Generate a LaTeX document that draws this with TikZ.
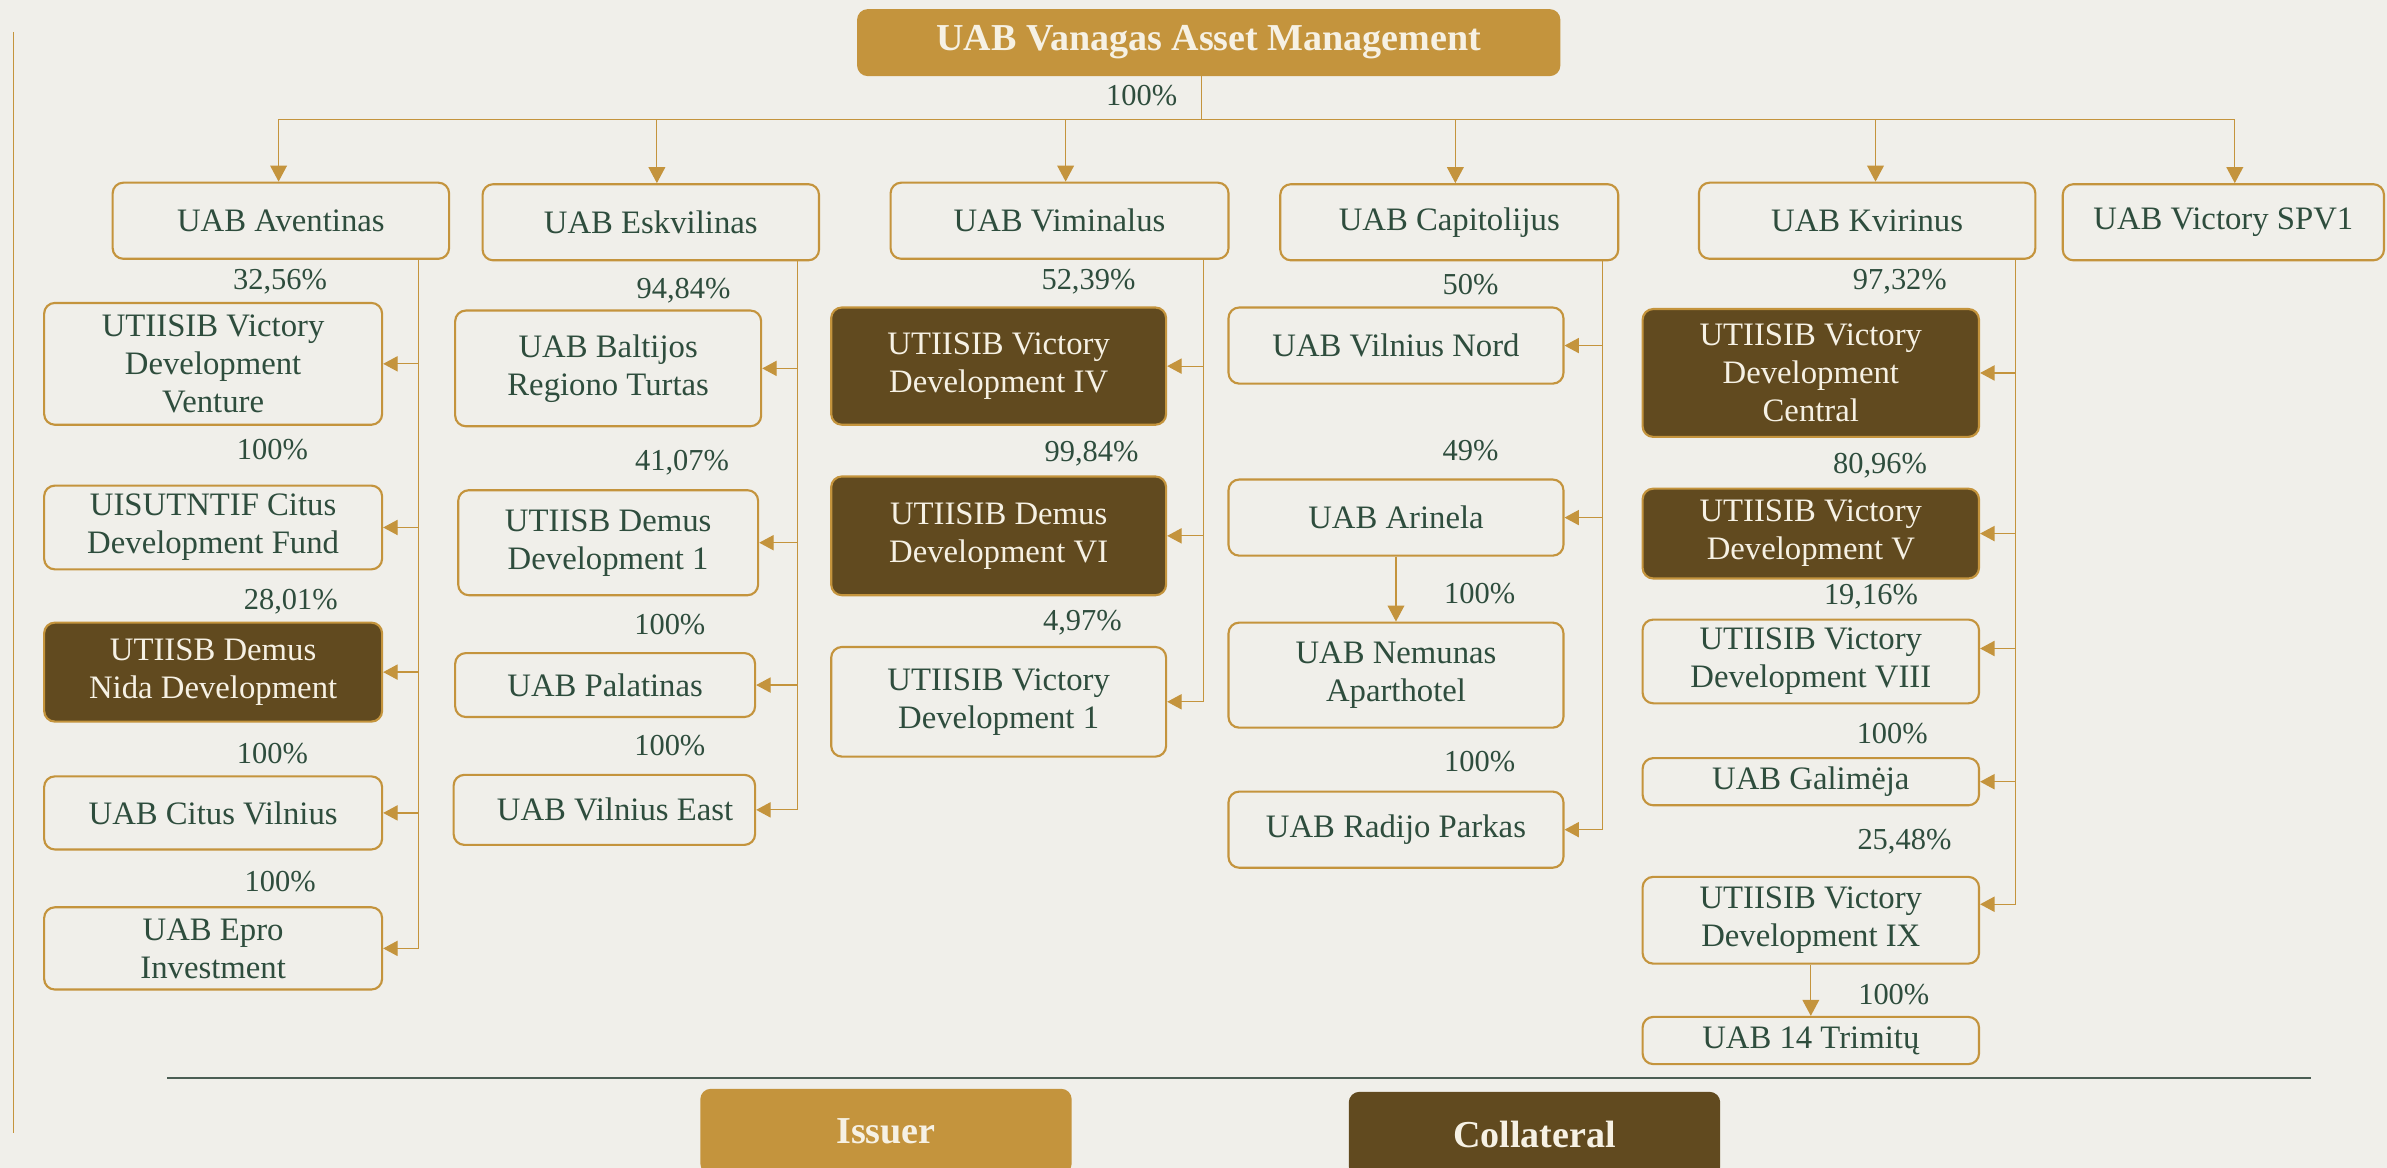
\documentclass[tikz,border=0pt]{standalone}
\usepackage{fontspec}
\setmainfont{Liberation Serif}
\usetikzlibrary{arrows.meta,positioning}

\definecolor{pagebg}{HTML}{F0EFEA}
\definecolor{gold}{HTML}{C4943D}
\definecolor{umber}{HTML}{614A1F}
\definecolor{ink}{HTML}{2E4D3D}
\definecolor{cream}{HTML}{F6F1E4}
\definecolor{rulegreen}{HTML}{4B5E54}

\begin{document}
\begin{tikzpicture}[
  x=1pt, y=-1pt,
  block/.style={
    draw=gold,
    line width=1.4pt,
    rounded corners=7pt,
    fill=pagebg,
    text=ink,
    align=center,
    inner sep=0pt,
    minimum width=221pt,
    minimum height=50pt,
    font=\fontsize{21.5}{25}\selectfont
  },
  darkblock/.style={block, fill=umber, text=cream},
  headblock/.style={
    fill=gold,
    rounded corners=7pt,
    text=cream,
    inner sep=0pt,
    font=\fontsize{25}{28}\selectfont\bfseries
  },
  pct/.style={text=ink, inner sep=0pt, font=\fontsize{20}{22}\selectfont},
  line/.style={draw=gold, line width=0.8pt},
  link/.style={line, -{Triangle[length=9.5pt,width=10pt]}},
  drop/.style={line, -{Triangle[length=10.5pt,width=11pt]}}
]

\path[use as bounding box, fill=pagebg] (0,0) rectangle (1568,767);
\clip (0,0) rectangle (1568,767);

% --- Parent ---
\node[headblock, minimum width=462pt, minimum height=44pt] (vanagas) at (794,28)
{UAB Vanagas Asset Management};

% --- First level ---
\node[block] (aventinas) at (184.5,145) {UAB Aventinas};
\node[block] (eskvilinas) at (427.5,146) {UAB Eskvilinas};
\node[block, minimum width=222pt] (viminalus) at (696,145) {UAB Viminalus};
\node[block, minimum width=222pt] (capitolijus) at (952,146) {UAB Capitolijus};
\node[block] (kvirinus) at (1226.5,145) {UAB Kvirinus};
\node[block, minimum width=211pt] (spv) at (1460.5,146) {UAB Victory SPV1};

% --- Aventinas column ---
\node[block, minimum width=222pt, minimum height=80pt] (venture) at (140,239)
{UTIISIB Victory\\Development\\Venture};
\node[block, minimum width=222pt, minimum height=55pt] (citusfund) at (140,346.5)
{UISUTNTIF Citus\\Development Fund};
\node[darkblock, minimum width=222pt, minimum height=65pt] (nida) at (140,441.5)
{UTIISB Demus\\Nida Development};
\node[block, minimum width=222pt, minimum height=48pt] (citusvilnius) at (140,534)
{UAB Citus Vilnius};
\node[block, minimum width=222pt, minimum height=54pt] (epro) at (140,623)
{UAB Epro\\Investment};

% --- Eskvilinas column ---
\node[block, minimum width=201pt, minimum height=76pt] (baltijos) at (399.5,242)
{UAB Baltijos\\Regiono Turtas};
\node[block, minimum width=197pt, minimum height=69pt] (demus1) at (399.5,356.5)
{UTIISB Demus\\Development 1};
\node[block, minimum width=197pt, minimum height=42pt] (palatinas) at (397.5,450)
{UAB Palatinas};
\node[block, minimum width=198pt, minimum height=46pt] (vilniuseast) at (397,532)
{\hspace*{14pt}UAB Vilnius East};

% --- Viminalus column ---
\node[darkblock, minimum width=220pt, minimum height=77pt] (victory4) at (656,240.5)
{UTIISIB Victory\\Development IV};
\node[darkblock, minimum width=220pt, minimum height=78pt] (demus6) at (656,352)
{UTIISIB Demus\\Development VI};
\node[block, minimum width=220pt, minimum height=72pt] (victory1) at (656,461)
{UTIISIB Victory\\Development 1};

% --- Capitolijus column ---
\node[block, minimum width=220pt] (nord) at (917,227) {UAB Vilnius Nord};
\node[block, minimum width=220pt] (arinela) at (917,340) {UAB Arinela};
\node[block, minimum width=220pt, minimum height=69pt] (nemunas) at (917,443.5)
{UAB Nemunas\\Aparthotel};
\node[block, minimum width=220pt] (radijo) at (917,545) {UAB Radijo Parkas};

% --- Kvirinus column ---
\node[darkblock, minimum height=84pt] (central) at (1189.5,245)
{UTIISIB Victory\\Development\\Central};
\node[darkblock, minimum height=59pt] (victory5) at (1189.5,350.5)
{UTIISIB Victory\\Development V};
\node[block, minimum height=55pt] (victory8) at (1189.5,434.5)
{UTIISIB Victory\\Development VIII};
\node[block, minimum height=31pt] (galimeja) at (1189.5,513.5) {UAB Galimėja};
\node[block, minimum height=57pt] (victory9) at (1189.5,604.5)
{UTIISIB Victory\\Development IX};
\node[block, minimum height=31pt] (trimitu) at (1189.5,683.5) {UAB 14 Trimitų};

% --- Ownership shares ---
\node[pct] (pct_top) at (750,63) {100\%};
\node[pct] (pct_venture) at (184,185) {32,56\%};
\node[pct] (pct_citusfund) at (179,295) {100\%};
\node[pct] (pct_nida) at (191,395) {28,01\%};
\node[pct] (pct_citusvilnius) at (179,495) {100\%};
\node[pct] (pct_epro) at (184,579) {100\%};
\node[pct] (pct_baltijos) at (449,191) {94,84\%};
\node[pct] (pct_demus1) at (448,304) {41,07\%};
\node[pct] (pct_palatinas) at (440,410) {100\%};
\node[pct] (pct_vilniuseast) at (440,490) {100\%};
\node[pct] (pct_victory4) at (715,185) {52,39\%};
\node[pct] (pct_demus6) at (717,298) {99,84\%};
\node[pct] (pct_victory1) at (711,409) {4,97\%};
\node[pct] (pct_nord) at (966,187) {50\%};
\node[pct] (pct_arinela) at (966,296) {49\%};
\node[pct] (pct_nemunas) at (972,390) {100\%};
\node[pct] (pct_radijo) at (972,500) {100\%};
\node[pct] (pct_central) at (1248,185) {97,32\%};
\node[pct] (pct_victory5) at (1235,306) {80,96\%};
\node[pct] (pct_victory8) at (1229,392) {19,16\%};
\node[pct] (pct_galimeja) at (1243,482) {100\%};
\node[pct] (pct_victory9) at (1251,553) {25,48\%};
\node[pct] (pct_trimitu) at (1244,653) {100\%};

% --- Bus from the parent ---
\coordinate (bus) at (789,78.5);
\draw[line] (vanagas.south -| bus) -- (bus);
\foreach \n/\s in {aventinas/-1.5, eskvilinas/4, viminalus/4, capitolijus/4, kvirinus/5.5, spv/7.5} {
  \coordinate (d\n) at ([xshift=\s pt]\n.north);
  \draw[drop] (d\n |- bus) -- (d\n);
}
\draw[line] (daventinas |- bus) -- (dspv |- bus);

% --- Spines ---
\coordinate (spineA) at ([xshift=-21pt]aventinas.south east);
\coordinate (spineB) at ([xshift=-15pt]eskvilinas.south east);
\coordinate (spineC) at ([xshift=-17pt]viminalus.south east);
\coordinate (spineD) at ([xshift=-11pt]capitolijus.south east);
\coordinate (spineE) at ([xshift=-13.5pt]kvirinus.south east);

\draw[link] (spineA) |- (epro.east);
\foreach \c in {venture,citusfund,nida,citusvilnius}
  \draw[link] (spineA |- \c.east) -- (\c.east);

\draw[link] (spineB) |- (vilniuseast.east);
\foreach \c in {baltijos,demus1,palatinas}
  \draw[link] (spineB |- \c.east) -- (\c.east);

\draw[link] (spineC) |- (victory1.east);
\foreach \c in {victory4,demus6}
  \draw[link] (spineC |- \c.east) -- (\c.east);

\draw[link] (spineD) |- (radijo.east);
\foreach \c in {nord,arinela}
  \draw[link] (spineD |- \c.east) -- (\c.east);

\coordinate (tip_v8) at ([yshift=8.5pt]victory8.east);
\coordinate (tip_v9) at ([yshift=10.5pt]victory9.east);
\draw[link] (spineE) |- (tip_v9);
\foreach \c in {central.east,victory5.east,tip_v8,galimeja.east}
  \draw[link] (spineE |- \c) -- (\c);

\draw[drop] (arinela) -- (nemunas);
\draw[drop] (victory9) -- (trimitu);

% --- Frame and legend ---
\coordinate (margin_t) at (9,21);
\coordinate (margin_b) at (9,744);
\draw[line, line width=1pt] (margin_t) -- (margin_b);

\coordinate (rule_l) at (110,708);
\coordinate (rule_r) at (1518,708);
\draw[rulegreen, line width=1pt] (rule_l) -- (rule_r);

\node[headblock, anchor=north, minimum width=244pt, minimum height=56pt] (issuer) at (582,715) {Issuer};
\node[headblock, anchor=north, fill=umber, minimum width=244pt, minimum height=56pt] (collateral) at (1008,717) {Collateral};

\end{tikzpicture}
\end{document}
